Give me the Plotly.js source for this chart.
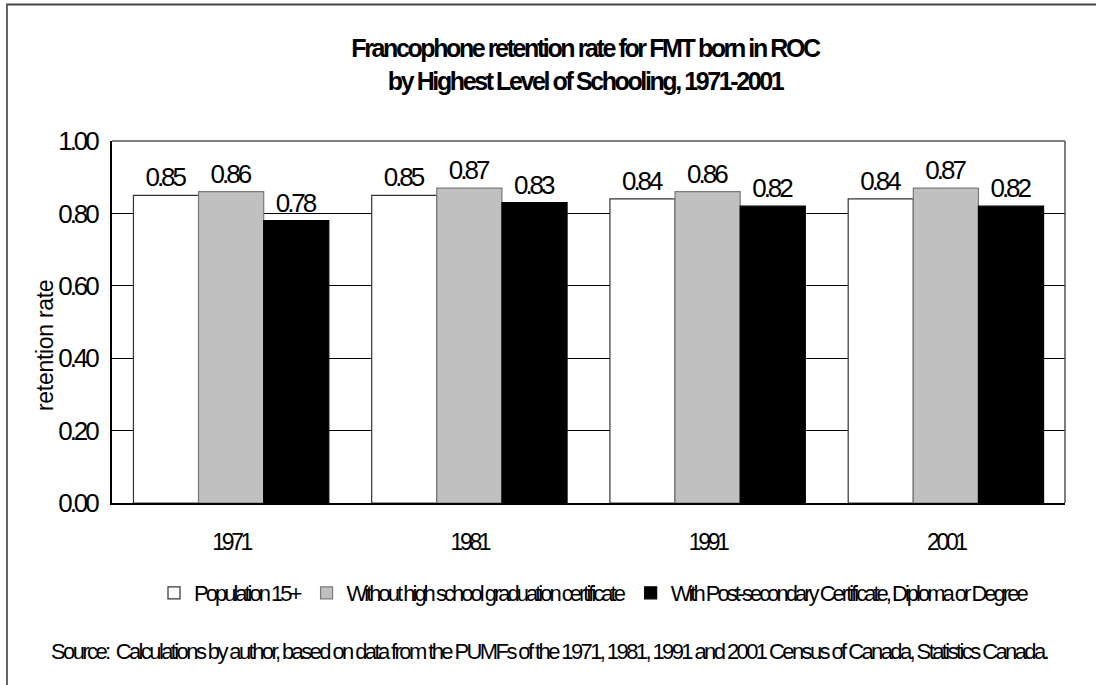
<!DOCTYPE html>
<html>
<head>
<meta charset="utf-8">
<script src="https://cdn.plot.ly/plotly-3.0.1.min.js"></script>
<style>
html, body { margin: 0; padding: 0; background: #fff; }
#chart { width: 1096px; height: 685px; }
.gtitle { letter-spacing: -2.4px; }
.ytick text { letter-spacing: -3px; }
.xtick text { letter-spacing: -3.3px; }
.bartext { letter-spacing: -3px; }
.legendtext { letter-spacing: -3px; }
.annotation-text { letter-spacing: -2.6px; }
</style>
</head>
<body>
<div id="chart"></div>
<script>
// ---- data ----
const years = ["1971", "1981", "1991", "2001"];
const seriesNames = [
  "Population 15+",
  "Without high school graduation certificate",
  "With Post-secondary Certificate, Diploma or Degree"
];
const population15 = [0.85, 0.85, 0.84, 0.84];
const withoutHighSchool = [0.86, 0.87, 0.86, 0.87];
const withPostSecondary = [0.78, 0.83, 0.82, 0.82];
const yTicks = [0, 0.2, 0.4, 0.6, 0.8, 1.0];
const titleText = "Francophone retention rate for FMT born in ROC<br>by Highest Level of Schooling, 1971-2001";
const yTitle = "retention rate";
const sourceText = "Source:  Calculations by author, based on data from the PUMFs of the 1971, 1981, 1991 and 2001 Census of Canada, Statistics Canada.";

// ---- layout helpers ----
const W = 1096, H = 685;
const L = 112, R = 1065, T = 141, B = 503;
const px2x = p => (p - L) / (R - L);
const py2y = p => (B - p) / (B - T);

const FONT = "Liberation Sans, Arial, Helvetica, sans-serif";

function barTrace(name, vals, fill, edge) {
  return {
    type: "bar",
    name: name,
    x: years,
    y: vals,
    marker: { color: fill, line: { color: edge, width: 1.2 } },
    texttemplate: "%{y:.2f}",
    textposition: "outside",
    cliponaxis: false,
    textfont: { family: FONT, size: 26, color: "#000" },
    hoverinfo: "skip"
  };
}

const data = [
  barTrace(seriesNames[0], population15, "#ffffff", "#333333"),
  barTrace(seriesNames[1], withoutHighSchool, "#c0c0c0", "#7a7a7a"),
  barTrace(seriesNames[2], withPostSecondary, "#000000", "#000000")
];

const layout = {
  width: W, height: H,
  margin: { l: L, r: W - R, t: T, b: H - B, pad: 0 },
  paper_bgcolor: "#ffffff",
  plot_bgcolor: "#ffffff",
  font: { family: FONT, color: "#000" },
  showlegend: true,
  barmode: "group",
  bargap: 0.18,
  bargroupgap: 0,
  title: {
    text: titleText,
    font: { family: FONT, size: 25, color: "#000", weight: "bold" },
    xref: "paper", x: px2x(585), xanchor: "center",
    yref: "container", y: 1 - 57 / H, yanchor: "middle"
  },
  xaxis: {
    type: "category",
    showgrid: false,
    showline: true, linecolor: "#000", linewidth: 2,
    ticks: "", ticklabelstandoff: 17,
    tickfont: { family: FONT, size: 23, color: "#000" },
    zeroline: false, fixedrange: true
  },
  yaxis: {
    range: [0, 1],
    tickvals: yTicks,
    tickformat: ".2f",
    showgrid: true, gridcolor: "#000", gridwidth: 1,
    showline: true, linecolor: "#000", linewidth: 2,
    zeroline: false,
    ticks: "", ticklabelstandoff: 8,
    tickfont: { family: FONT, size: 26, color: "#000" },
    fixedrange: true
  },
  legend: {
    orientation: "h",
    x: px2x(594), xanchor: "center",
    y: py2y(593), yanchor: "middle",
    font: { family: FONT, size: 22, color: "#000" },
    bgcolor: "rgba(0,0,0,0)",
    traceorder: "normal",
    itemclick: false, itemdoubleclick: false
  },
  annotations: [
    {
      text: sourceText,
      xref: "paper", yref: "paper",
      x: px2x(550), y: py2y(651),
      xanchor: "center", yanchor: "middle",
      showarrow: false,
      font: { family: FONT, size: 22, color: "#000" }
    },
    {
      text: '<span style="letter-spacing:-0.3px">' + yTitle + '</span>',
      xref: "paper", yref: "paper",
      x: px2x(45), y: py2y(346),
      xanchor: "center", yanchor: "middle",
      textangle: -90,
      showarrow: false,
      font: { family: FONT, size: 23, color: "#000" }
    }
  ],
  shapes: [
    // plot area top and right border
    { type: "line", xref: "paper", yref: "paper", x0: 0, x1: 1, y0: 1, y1: 1, line: { color: "#555", width: 1.5 } },
    { type: "line", xref: "paper", yref: "paper", x0: 1, x1: 1, y0: 0, y1: 1, line: { color: "#555", width: 1.5 } },
    // outer frame (top and left)
    { type: "line", xref: "paper", yref: "paper", x0: px2x(6), x1: px2x(1096), y0: py2y(4.5), y1: py2y(4.5), line: { color: "#444", width: 2 } },
    { type: "line", xref: "paper", yref: "paper", x0: px2x(7), x1: px2x(7), y0: py2y(4.5), y1: py2y(685), line: { color: "#666", width: 2 } }
  ]
};

Plotly.newPlot("chart", data, layout, { displayModeBar: false, staticPlot: true });
</script>
</body>
</html>
